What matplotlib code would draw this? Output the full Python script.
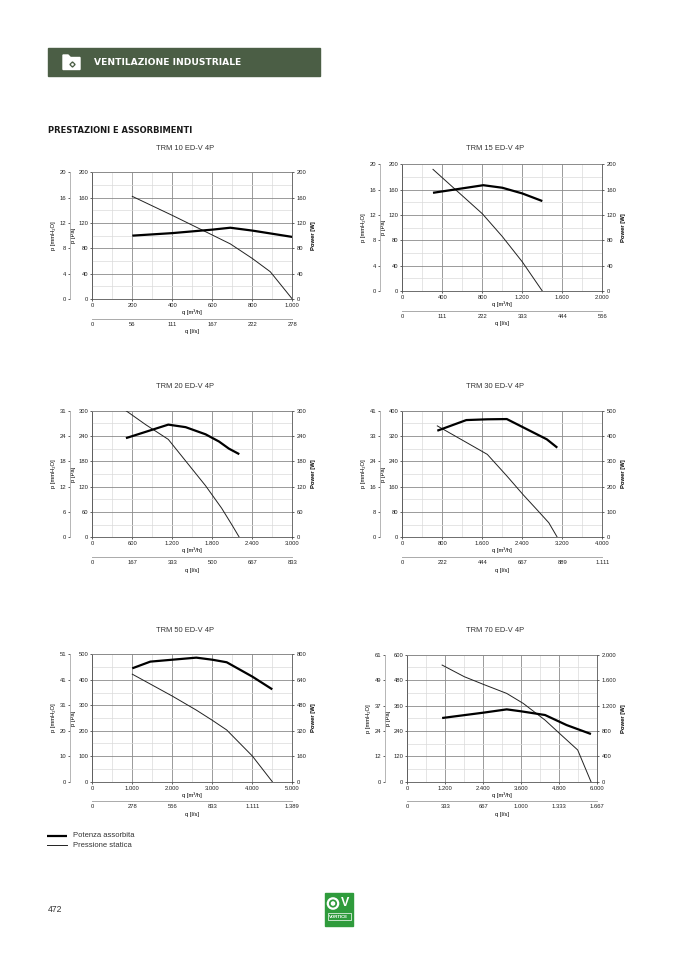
import matplotlib.pyplot as plt
from matplotlib.patches import Rectangle, Polygon, Circle

W, H = 677, 958
plt.rcParams['font.family'] = ['Liberation Sans', 'DejaVu Sans']

# TRM 10 ED-V 4P
trm10_q_p = [200, 400, 600, 690, 800, 890, 1000]
trm10_p = [162, 132, 101, 87, 64, 43, 0]
trm10_q_w = [200, 400, 600, 690, 800, 1000]
trm10_w = [100, 104, 109.5, 112.5, 108, 98]
trm10_qticks = [0, 200, 400, 600, 800, 1000]
trm10_ls = ['0', '56', '111', '167', '222', '278']
trm10_pticks = [0, 40, 80, 120, 160, 200]
trm10_mm = ['0', '4', '8', '12', '16', '20']
trm10_wticks = [0, 40, 80, 120, 160, 200]

# TRM 15 ED-V 4P
trm15_q_p = [307, 800, 1000, 1200, 1400]
trm15_p = [192, 122, 86, 46, 0]
trm15_q_w = [307, 810, 1000, 1200, 1400]
trm15_w = [155, 167, 163, 154, 142]
trm15_qticks = [0, 400, 800, 1200, 1600, 2000]
trm15_ls = ['0', '111', '222', '333', '444', '556']
trm15_pticks = [0, 40, 80, 120, 160, 200]
trm15_mm = ['0', '4', '8', '12', '16', '20']
trm15_wticks = [0, 40, 80, 120, 160, 200]

# TRM 20 ED-V 4P
trm20_q_p = [505, 800, 1140, 1415, 1700, 1940, 2100, 2205]
trm20_p = [300, 267, 232, 178, 122, 69, 28, 0]
trm20_q_w = [505, 1140, 1400, 1700, 1900, 2050, 2205]
trm20_w = [235, 267, 261, 244, 227, 210, 197]
trm20_qticks = [0, 600, 1200, 1800, 2400, 3000]
trm20_ls = ['0', '167', '333', '500', '667', '833']
trm20_pticks = [0, 60, 120, 180, 240, 300]
trm20_mm = ['0', '6', '12', '18', '24', '31']
trm20_wticks = [0, 60, 120, 180, 240, 300]

# TRM 30 ED-V 4P
trm30_q_p = [700, 1290, 1700, 2090, 2420, 2700, 2930, 3100]
trm30_p = [352, 299, 262, 194, 134, 86, 46, 0]
trm30_q_w = [700, 1280, 1700, 2090, 2500, 2890, 3100]
trm30_w = [421, 463, 466, 467, 426, 387, 354]
trm30_qticks = [0, 800, 1600, 2400, 3200, 4000]
trm30_ls = ['0', '222', '444', '667', '889', '1.111']
trm30_pticks = [0, 80, 160, 240, 320, 400]
trm30_mm = ['0', '8', '16', '24', '33', '41']
trm30_wticks = [0, 100, 200, 300, 400, 500]

# TRM 50 ED-V 4P
trm50_q_p = [1000, 2000, 2600, 3000, 3360, 4000, 4500]
trm50_p = [422, 336, 281, 241, 203, 101, 0]
trm50_q_w = [1000, 1450, 2000, 2600, 3000, 3360, 4000, 4500]
trm50_w = [712, 754, 766, 779, 766, 750, 660, 580]
trm50_qticks = [0, 1000, 2000, 3000, 4000, 5000]
trm50_ls = ['0', '278', '556', '833', '1.111', '1.389']
trm50_pticks = [0, 100, 200, 300, 400, 500]
trm50_mm = ['0', '10', '20', '31', '41', '51']
trm50_wticks = [0, 160, 320, 480, 640, 800]

# TRM 70 ED-V 4P
trm70_q_p = [1100, 1800, 2400, 3140, 3660, 4350, 4800, 5380, 5800]
trm70_p = [551, 496, 460, 417, 370, 291, 229, 150, 0]
trm70_q_w = [1100, 2400, 3140, 3600, 4350, 5030, 5800]
trm70_w = [1003, 1087, 1139, 1108, 1050, 892, 751]
trm70_qticks = [0, 1200, 2400, 3600, 4800, 6000]
trm70_ls = ['0', '333', '667', '1.000', '1.333', '1.667']
trm70_pticks = [0, 120, 240, 360, 480, 600]
trm70_mm = ['0', '12', '24', '37', '49', '61']
trm70_wticks = [0, 400, 800, 1200, 1600, 2000]


def fmt(v):
    return f'{v:,}'.replace(',', '.')


fig = plt.figure(figsize=(W / 100, H / 100), dpi=100)
page = fig.add_axes([0, 0, 1, 1])
page.set_xlim(0, W)
page.set_ylim(H, 0)
page.axis('off')

# header bar
page.add_patch(Rectangle((48, 48), 272, 28, color='#4b5e45'))
page.add_patch(Polygon([(63, 55), (68, 55), (70.5, 57.5), (80, 57.5), (80, 69.5), (63, 69.5)],
                       closed=True, color='white'))
page.plot(71.5, 63.5, marker='D', ms=2.6, color='#4b5e45')
page.plot(71.5, 63.5, marker='o', ms=0.9, color='white')
page.text(94, 62.8, 'VENTILAZIONE INDUSTRIALE', color='white', fontsize=6.6,
          fontweight='bold', va='center', family='DejaVu Sans')
page.text(48, 130, 'PRESTAZIONI E ASSORBIMENTI', color='#1a1a1a', fontsize=6.05,
          fontweight='bold', va='center', family='DejaVu Sans')

TS = 4.2
MAJ = '#8a8a8a'
MIN = '#dadada'


def chart(box, title, title_x, title_y, q_p, p, q_w, w, qticks, ls, pticks, mm, wticks, pw_x):
    left, top, right, bottom = box
    wpx, hpx = right - left, bottom - top
    ax = fig.add_axes([left / W, 1 - bottom / H, wpx / W, hpx / H])
    ax.set_xlim(qticks[0], qticks[-1])
    ax.set_ylim(pticks[0], pticks[-1])
    ax.set_xticks(qticks)
    ax.set_xticklabels([fmt(t) for t in qticks])
    ax.set_yticks(pticks)
    ax.set_yticklabels([fmt(t) for t in pticks])
    qs = qticks[1] - qticks[0]
    ps = pticks[1] - pticks[0]
    ax.set_xticks([t + qs / 2 for t in qticks[:-1]], minor=True)
    ax.set_yticks([t + ps / 2 for t in pticks[:-1]], minor=True)
    ax.grid(which='major', color=MAJ, lw=0.6)
    ax.grid(which='minor', color=MIN, lw=0.5)
    ax.set_axisbelow(True)
    ax.tick_params(which='minor', length=0)
    ax.tick_params(which='major', labelsize=TS, length=1.5, width=0.5, pad=1.5, colors='#222')
    for s in ax.spines.values():
        s.set_color('#555')
        s.set_linewidth(0.6)
    ax.spines['top'].set_color(MAJ)
    ax.plot(q_p, p, color='#222', lw=0.7, zorder=3)

    ax2 = ax.twinx()
    ax2.set_ylim(wticks[0], wticks[-1])
    ax2.set_yticks(wticks)
    ax2.set_yticklabels([fmt(t) for t in wticks])
    ax2.tick_params(labelsize=TS, length=1.5, width=0.5, pad=1.5, colors='#222')
    for s in ax2.spines.values():
        s.set_visible(False)
    ax2.plot(q_w, w, color='black', lw=1.6, zorder=4, solid_capstyle='butt')

    ax3 = ax.twinx()
    ax3.yaxis.set_ticks_position('left')
    ax3.spines['left'].set_position(('outward', 22 * 0.72))
    for k in ('right', 'top', 'bottom'):
        ax3.spines[k].set_visible(False)
    ax3.spines['left'].set_color('#aaaaaa')
    ax3.spines['left'].set_linewidth(0.6)
    ax3.set_ylim(pticks[0], pticks[-1])
    ax3.set_yticks(pticks)
    ax3.set_yticklabels(mm)
    ax3.tick_params(labelsize=TS, length=1.5, width=0.5, pad=1.3, colors='#222')

    ax4 = ax.twiny()
    ax4.xaxis.set_ticks_position('bottom')
    ax4.spines['bottom'].set_position(('outward', 19.5 * 0.72))
    for k in ('right', 'top', 'left'):
        ax4.spines[k].set_visible(False)
    ax4.spines['bottom'].set_color('#aaaaaa')
    ax4.spines['bottom'].set_linewidth(0.7)
    ax4.set_xlim(qticks[0], qticks[-1])
    ax4.set_xticks(qticks)
    ax4.set_xticklabels(ls)
    ax4.tick_params(labelsize=TS, length=0, pad=2.2, colors='#222')

    cx = (left + right) / 2
    page.text(title_x, title_y, title, fontsize=5.4, ha='center', va='center', color='#333')
    page.text(cx, bottom + 13, 'q [m³/h]', fontsize=TS, ha='center', va='center')
    page.text(cx, bottom + 33, 'q [l/s]', fontsize=TS, ha='center', va='center')
    page.text(left - 19, (top + bottom) / 2, 'p [Pa]', fontsize=TS, rotation=90,
              ha='center', va='center')
    page.text(left - 39, (top + bottom) / 2, 'p [mmH₂O]', fontsize=TS, rotation=90,
              ha='center', va='center')
    page.text(pw_x, (top + bottom) / 2, 'Power [W]', fontsize=TS, rotation=90,
              ha='center', va='center', fontweight='bold')


chart((92.3, 172.3, 292.3, 299), 'TRM 10 ED-V 4P', 185, 148,
      trm10_q_p, trm10_p, trm10_q_w, trm10_w, trm10_qticks, trm10_ls, trm10_pticks, trm10_mm, trm10_wticks, 313)
chart((402.3, 164.3, 602.3, 291), 'TRM 15 ED-V 4P', 495, 148,
      trm15_q_p, trm15_p, trm15_q_w, trm15_w, trm15_qticks, trm15_ls, trm15_pticks, trm15_mm, trm15_wticks, 623)
chart((92.3, 410.7, 292.3, 537.3), 'TRM 20 ED-V 4P', 185, 387,
      trm20_q_p, trm20_p, trm20_q_w, trm20_w, trm20_qticks, trm20_ls, trm20_pticks, trm20_mm, trm20_wticks, 313)
chart((402.3, 410.7, 602.3, 537.3), 'TRM 30 ED-V 4P', 495, 387,
      trm30_q_p, trm30_p, trm30_q_w, trm30_w, trm30_qticks, trm30_ls, trm30_pticks, trm30_mm, trm30_wticks, 623)
chart((92.3, 654.3, 292.3, 781.7), 'TRM 50 ED-V 4P', 185, 631,
      trm50_q_p, trm50_p, trm50_q_w, trm50_w, trm50_qticks, trm50_ls, trm50_pticks, trm50_mm, trm50_wticks, 313)
chart((407.3, 654.7, 597.3, 781.7), 'TRM 70 ED-V 4P', 495, 631,
      trm70_q_p, trm70_p, trm70_q_w, trm70_w, trm70_qticks, trm70_ls, trm70_pticks, trm70_mm, trm70_wticks, 623)

# legend
page.plot([47, 67], [835.7, 835.7], color='black', lw=1.6, solid_capstyle='butt')
page.plot([47, 67], [845.3, 845.3], color='#222', lw=0.7)
page.text(73, 835.7, 'Potenza assorbita', fontsize=5.5, va='center', color='#333')
page.text(73, 845.3, 'Pressione statica', fontsize=5.5, va='center', color='#333')

# page number
page.text(48, 909, '472', fontsize=6.2, va='center', color='#333')

# logo
page.add_patch(Rectangle((325, 893), 28, 33, color='#2f9b3c'))
page.add_patch(Circle((333, 903.5), 5.2, fill=False, ec='white', lw=1.6))
page.add_patch(Circle((333, 903.5), 1.6, color='white'))
page.text(345.5, 903.5, 'V', color='white', fontsize=9, fontweight='bold', ha='center', va='center')
page.add_patch(Rectangle((327.5, 913), 23, 7, fill=False, ec='white', lw=0.5))
page.text(339, 916.6, 'VORTICE', color='white', fontsize=3.2, fontweight='bold', ha='center', va='center')

fig.savefig('out.png', dpi=100)
